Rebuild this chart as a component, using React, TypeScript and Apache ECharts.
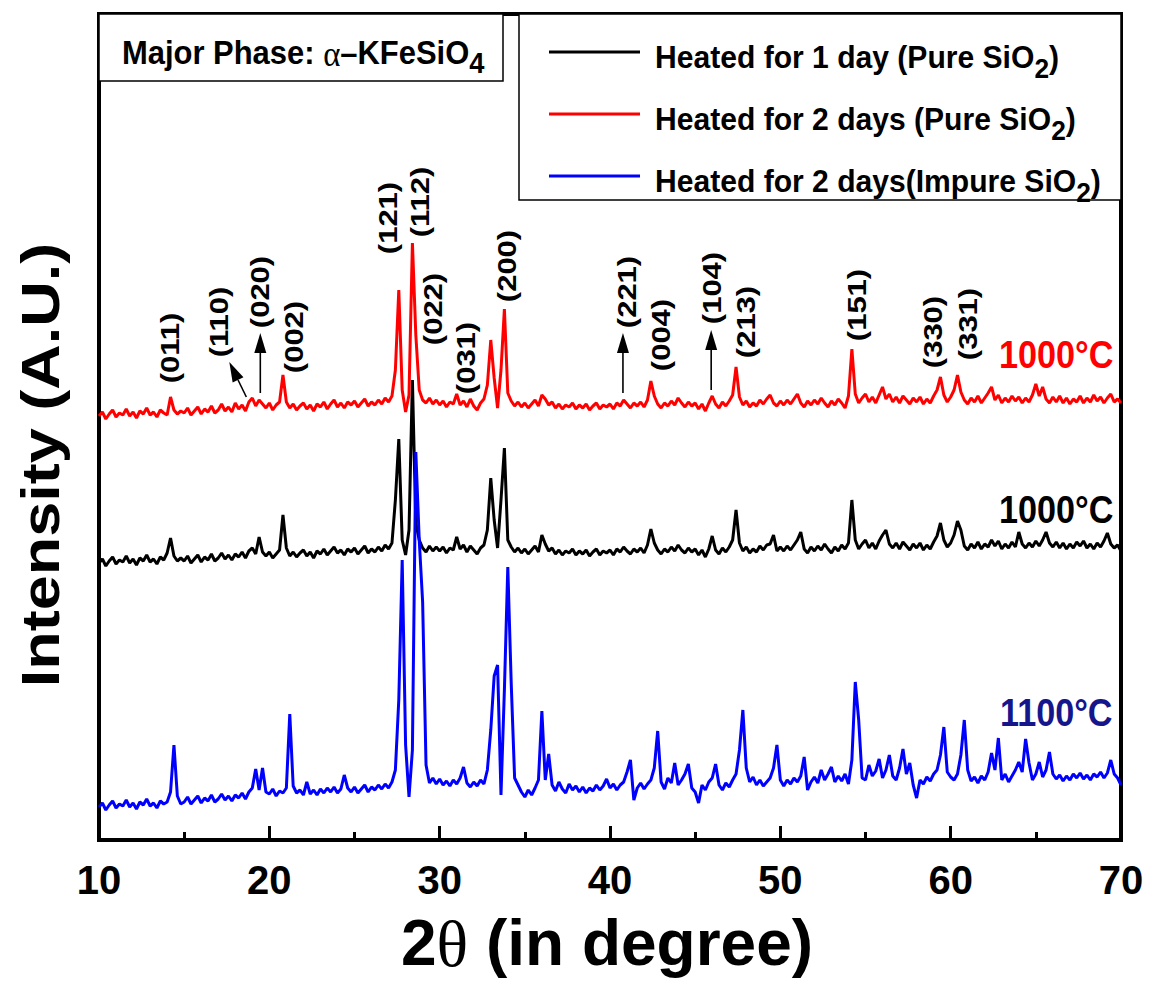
import React, { useEffect, useRef } from "react";
import * as echarts from "echarts";

// 2θ scan grid
const X_START = 10;
const X_STEP = 0.2;

// Intensities (a.u., stacked offsets included), one value per 0.2° from 10° to 70°
const redValues = [
  424,428,421,426,430,423,427,425,431,424,428,422,429,426,432,425,428,423,430,427,425,443,430,426,429,
  427,432,425,429,433,426,431,428,434,427,430,436,429,433,428,437,431,435,429,438,442,434,440,436,432,
  437,430,435,438,465,438,432,436,430,434,437,431,435,429,436,433,438,431,436,440,433,437,432,438,435,
  439,433,437,441,434,438,435,440,436,442,438,444,470,550,450,428,445,597,505,450,440,437,442,436,440,
  435,439,433,438,436,446,435,439,433,441,434,430,437,441,455,500,462,432,470,531,447,439,434,438,433,
  437,432,436,440,434,445,441,435,438,432,436,431,435,433,437,431,435,432,436,430,434,437,431,435,433,
  436,431,437,434,440,436,432,437,434,438,433,440,459,444,436,432,437,434,439,435,442,437,433,438,434,
  437,431,436,429,437,444,436,432,438,434,439,445,473,443,435,439,433,437,434,440,436,441,445,437,434,
  439,435,440,436,441,446,437,433,439,435,440,436,442,437,433,439,435,441,437,432,444,491,446,437,442,
  446,438,443,437,445,453,441,446,438,443,437,444,440,436,442,438,443,436,441,437,444,450,463,445,438,
  443,450,465,448,440,436,442,438,444,437,442,447,453,440,445,437,442,438,444,439,443,437,442,438,445,
  456,444,453,441,437,443,438,444,437,442,436,441,438,444,437,442,438,445,439,443,437,442,446,438,441,
  437,
];

const blackValues = [
  277,281,274,279,283,276,280,278,284,277,281,275,282,279,285,278,281,276,283,280,287,302,284,279,282,
  279,284,277,281,285,278,283,280,286,279,282,287,281,285,280,286,283,288,282,289,292,286,303,288,284,
  288,282,286,290,325,292,284,288,283,287,290,284,288,282,289,286,291,285,289,293,287,290,285,291,288,
  292,286,290,294,287,291,288,293,289,295,291,297,340,401,300,285,310,460,317,300,292,288,294,289,293,
  289,293,287,292,290,303,291,295,288,294,290,286,292,295,310,362,320,292,340,392,300,293,288,292,287,
  291,286,290,294,288,305,296,289,292,286,290,285,289,287,291,285,289,286,290,284,288,291,285,289,287,
  290,285,291,288,293,289,286,291,288,292,287,295,311,297,290,286,291,288,293,289,295,290,287,292,288,
  291,285,290,283,291,304,290,286,292,288,293,300,330,297,289,293,287,291,288,294,290,295,296,305,289,
  293,289,294,290,295,300,308,291,287,293,289,294,290,296,291,287,293,289,295,291,297,340,300,291,296,
  300,292,297,291,299,305,310,296,292,297,291,298,294,290,296,292,297,290,295,291,298,304,317,300,293,
  297,305,319,310,294,290,296,292,298,291,296,293,300,294,299,291,296,292,298,293,308,296,292,297,293,
  299,294,300,308,297,293,298,292,297,291,296,292,298,294,299,292,296,291,297,293,299,307,296,292,295,
  289,
];

const blueValues = [
  33,37,30,35,39,32,36,34,40,33,37,31,38,35,41,34,37,32,39,36,38,48,95,44,36,
  38,43,36,40,44,37,42,39,45,38,41,46,40,44,39,45,42,47,41,48,52,71,50,72,48,
  46,51,44,49,47,52,126,54,47,50,45,58,46,50,45,51,47,52,48,53,47,51,65,52,48,
  53,47,51,55,48,53,50,55,51,56,52,58,70,140,280,95,43,90,388,300,238,75,57,62,56,
  61,55,59,54,60,56,62,73,57,53,58,54,60,56,70,110,164,175,45,150,273,157,62,55,48,
  43,50,45,52,60,129,60,86,55,49,58,51,47,56,50,54,48,53,47,52,49,55,50,54,61,
  52,56,50,55,58,68,80,40,52,57,51,56,60,72,109,58,51,62,57,77,55,60,66,76,52,
  48,37,55,50,58,62,76,55,50,57,53,60,66,90,130,72,58,63,55,60,54,58,62,72,95,
  60,54,60,56,62,58,64,83,50,58,63,57,70,60,66,73,58,64,59,66,56,80,158,120,62,
  60,75,64,69,81,62,70,85,64,60,72,91,66,77,55,42,60,56,63,59,66,70,85,113,68,
  63,60,66,85,120,70,59,63,57,64,60,68,87,70,102,60,66,58,64,70,78,68,101,77,60,
  66,78,63,70,88,66,61,65,59,64,60,66,62,67,61,65,60,66,63,68,62,67,80,66,62,
  55,
];

const seriesNames = [
  "Heated for 1 day (Pure SiO2)",
  "Heated for 2 days (Pure SiO2)",
  "Heated for 2 days(Impure SiO2)",
];
const legendRich = [
  "{n|Heated for 1 day (Pure SiO}{s|2}{n|)}",
  "{n|Heated for 2 days (Pure SiO}{s|2}{n|)}",
  "{n|Heated for 2 days(Impure SiO}{s|2}{n|)}",
];
const seriesColors = ["#000000", "#FF0000", "#0000FF"];

const X_MIN = 10;
const X_MAX = 70;
const X_INTERVAL = 10;
const Y_MIN = 0;
const Y_MAX = 826;

// Miller-index labels: [text, 2θ, intensity position]
const hklLabels: [string, number, number][] = [
  ["(011)", 14.15, 492],
  ["(110)", 17.06, 518],
  ["(020)", 19.47, 548],
  ["(002)", 21.47, 503],
  ["(121)", 26.94, 622],
  ["(112)", 28.82, 638],
  ["(022)", 29.59, 531],
  ["(031)", 31.53, 482],
  ["(200)", 33.94, 574],
  ["(221)", 41.0, 548],
  ["(004)", 43.0, 505],
  ["(104)", 46.0, 552],
  ["(213)", 48.0, 518],
  ["(151)", 54.53, 535],
  ["(330)", 58.94, 508],
  ["(331)", 61.0, 516],
];

// Arrows: [2θ tail, I tail, 2θ tip, I tip]
const arrows: [number, number, number, number][] = [
  [18.65, 443, 17.65, 478],
  [19.47, 447, 19.47, 507],
  [40.76, 447, 40.76, 507],
  [45.94, 450, 45.94, 510],
];

// Temperature labels: [text, 2θ, intensity, colour]
const tempLabels: [string, number, number, string][] = [
  ["1000°C", 66.2, 485, "#FF0000"],
  ["1000°C", 66.2, 330, "#000000"],
  ["1100°C", 66.2, 127, "#16168C"],
];

const FONT = "'Liberation Sans', Arial, sans-serif";
const SERIF = "'Liberation Serif', 'Times New Roman', serif";

function toPoints(values: number[]) {
  return values.map((v, i) => [Math.round((X_START + i * X_STEP) * 10) / 10, v]);
}

export default function App() {
  const ref = useRef<HTMLDivElement>(null);

  useEffect(() => {
    if (!ref.current) return;
    const chart = echarts.init(ref.current, undefined, { renderer: "svg" });
    const dataSets = [blackValues, redValues, blueValues];
    const order = [1, 0, 2];
    const option: any = {
      animation: false,
      backgroundColor: "#ffffff",
      grid: {
        left: 99,
        right: 32,
        top: 14,
        bottom: 149,
        show: true,
        borderColor: "#000",
        borderWidth: 4,
        containLabel: false,
      },
      xAxis: {
        type: "value",
        min: X_MIN,
        max: X_MAX,
        interval: X_INTERVAL,
        axisLine: { show: true, lineStyle: { color: "#000", width: 4 } },
        axisTick: { show: true, inside: true, length: 14, lineStyle: { color: "#000", width: 3 } },
        minorTick: { show: true, splitNumber: 2, length: 8, lineStyle: { color: "#000", width: 3 } },
        splitLine: { show: false },
        minorSplitLine: { show: false },
        axisLabel: {
          color: "#000",
          fontSize: 40,
          fontWeight: "bold",
          fontFamily: FONT,
          margin: 20,
        },
      },
      yAxis: {
        type: "value",
        min: Y_MIN,
        max: Y_MAX,
        axisLine: { show: true, lineStyle: { color: "#000", width: 4 } },
        axisTick: { show: false },
        axisLabel: { show: false },
        splitLine: { show: false },
      },
      series: order.map((k) => ({
        name: seriesNames[k],
        type: "line",
        data: toPoints(dataSets[k]),
        symbol: "none",
        smooth: false,
        lineStyle: { color: seriesColors[k], width: 3 },
        itemStyle: { color: seriesColors[k] },
        z: 2 + k,
      })),
    };
    chart.setOption(option);

    const px = (x: number, y: number) => chart.convertToPixel({ gridIndex: 0 }, [x, y]) as number[];
    const g: any[] = [];

    // title box
    g.push({
      type: "rect",
      shape: { x: 99, y: 14, width: 404, height: 67 },
      style: { fill: "#fff", stroke: "#000", lineWidth: 1.5 },
      z: 10,
    });
    g.push({
      type: "text",
      x: 122,
      y: 52,
      scaleX: 0.91,
      z: 11,
      style: {
        text: "{n|Major Phase: }{g|α}{n|–KFeSiO}{s|4}",
        align: "left",
        verticalAlign: "middle",
        textAlign: "left",
        textVerticalAlign: "middle",
        rich: {
          n: { fontSize: 34, fontWeight: "bold", fontFamily: FONT, fill: "#000", lineHeight: 34, verticalAlign: "top" },
          g: { fontSize: 36, fontFamily: SERIF, fill: "#000", lineHeight: 34, verticalAlign: "top" },
          s: { fontSize: 30, fontWeight: "bold", fontFamily: FONT, fill: "#000", lineHeight: 30, padding: [13, 0, 0, 0], verticalAlign: "top" },
        },
      },
    });

    // legend box
    g.push({
      type: "rect",
      shape: { x: 519, y: 14, width: 602, height: 186 },
      style: { fill: "#fff", stroke: "#000", lineWidth: 1.5 },
      z: 10,
    });
    const rows = [52, 114, 176];
    rows.forEach((ry, i) => {
      g.push({
        type: "line",
        shape: { x1: 549, y1: ry, x2: 640, y2: ry },
        style: { stroke: seriesColors[i], lineWidth: 3 },
        z: 11,
      });
      g.push({
        type: "text",
        x: 655,
        y: ry + 5,
        scaleX: 0.94,
        z: 11,
        style: {
          text: legendRich[i],
          align: "left",
          verticalAlign: "middle",
          textAlign: "left",
          textVerticalAlign: "middle",
          rich: {
            n: { fontSize: 32, fontWeight: "bold", fontFamily: FONT, fill: "#000", lineHeight: 32, verticalAlign: "top" },
            s: { fontSize: 28, fontWeight: "bold", fontFamily: FONT, fill: "#000", lineHeight: 28, padding: [13, 0, 0, 0], verticalAlign: "top" },
          },
        },
      });
    });

    // hkl labels
    hklLabels.forEach(([t, x, y]) => {
      const p = px(x, y);
      g.push({
        type: "text",
        x: p[0],
        y: p[1],
        rotation: Math.PI / 2,
        scaleY: 0.82,
        z: 12,
        style: {
          text: t,
          fontSize: 31,
          fontWeight: "bold",
          fontFamily: FONT,
          fill: "#000",
          align: "center",
          verticalAlign: "middle",
          textAlign: "center",
          textVerticalAlign: "middle",
        },
      });
    });

    // arrows
    arrows.forEach(([x1, y1, x2, y2]) => {
      const a = px(x1, y1);
      const b = px(x2, y2);
      const dx = b[0] - a[0];
      const dy = b[1] - a[1];
      const len = Math.hypot(dx, dy);
      const ux = dx / len;
      const uy = dy / len;
      const hl = 20;
      const hw = 6;
      const bx = b[0] - ux * hl;
      const by = b[1] - uy * hl;
      g.push({
        type: "line",
        shape: { x1: a[0], y1: a[1], x2: bx, y2: by },
        style: { stroke: "#000", lineWidth: 1.6 },
        z: 12,
      });
      g.push({
        type: "polygon",
        shape: { points: [[b[0], b[1]], [bx - uy * hw, by + ux * hw], [bx + uy * hw, by - ux * hw]] },
        style: { fill: "#000" },
        z: 12,
      });
    });

    // temperature labels
    tempLabels.forEach(([t, x, y, c]) => {
      const p = px(x, y);
      g.push({
        type: "text",
        x: p[0],
        y: p[1],
        scaleX: 0.9,
        z: 12,
        style: {
          text: t,
          fontSize: 38,
          fontWeight: "bold",
          fontFamily: FONT,
          fill: c,
          align: "center",
          verticalAlign: "middle",
          textAlign: "center",
          textVerticalAlign: "middle",
        },
      });
    });

    // axis titles
    g.push({
      type: "text",
      x: 607,
      y: 943,
      z: 12,
      style: {
        text: "{n|2}{g|θ}{n| (in degree)}",
        align: "center",
        verticalAlign: "middle",
        textAlign: "center",
        textVerticalAlign: "middle",
        rich: {
          n: { fontSize: 64, fontWeight: "bold", fontFamily: FONT, fill: "#000" },
          g: { fontSize: 66, fontFamily: SERIF, fill: "#000" },
        },
      },
    });
    g.push({
      type: "text",
      x: 40,
      y: 465,
      rotation: Math.PI / 2,
      scaleY: 0.85,
      z: 12,
      style: {
        text: "Intensity (A.U.)",
        fontSize: 63,
        fontWeight: "bold",
        fontFamily: FONT,
        fill: "#000",
        align: "center",
        verticalAlign: "middle",
        textAlign: "center",
        textVerticalAlign: "middle",
      },
    });

    chart.setOption({ graphic: { elements: g } });

    return () => chart.dispose();
  }, []);

  return (
    <div
      ref={ref}
      style={{ position: "fixed", left: 0, top: 0, width: 1153, height: 989, background: "#fff" }}
    />
  );
}
